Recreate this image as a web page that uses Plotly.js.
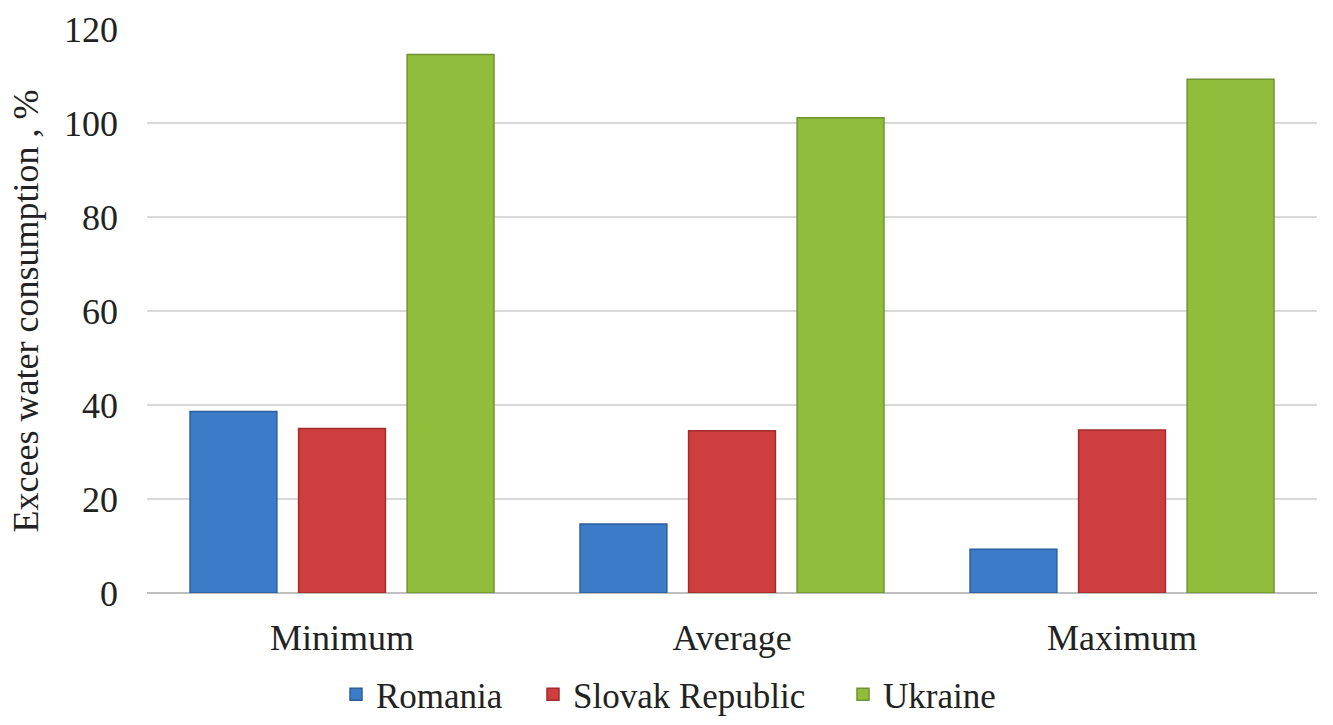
<!DOCTYPE html>
<html>
<head>
<meta charset="utf-8">
<script src="https://cdn.plot.ly/plotly-3.0.1.min.js"></script>
<style>
html,body{margin:0;padding:0;background:#fff;}
#chart{width:1333px;height:725px;}
#chart .legendtext{font-family:"Liberation Serif", serif !important;}
</style>
</head>
<body>
<div id="chart"></div>
<script>
const categories = ["Minimum", "Average", "Maximum"];
const romania = [38.6, 14.7, 9.3];
const slovak = [35.0, 34.5, 34.7];
const ukraine = [114.6, 101.1, 109.3];
const seriesNames = ["Romania", "Slovak Republic", "Ukraine"];
const yTickVals = [0, 20, 40, 60, 80, 100, 120];

const font = "Liberation Serif";
const colors = ["#3b7bc8", "#cf3e3e", "#91bd3d"];
const lineColors = ["#2a5e9e", "#a02c2c", "#6f9330"];
const legendIds = ["legend", "legend2", "legend3"];
const data = [romania, slovak, ukraine].map((vals, i) => ({
  type: "bar",
  name: seriesNames[i],
  x: categories,
  y: vals,
  legend: legendIds[i],
  marker: {color: colors[i], line: {color: lineColors[i], width: 1.5}},
  hoverinfo: "none"
}));

function legendAt(xpx) {
  return {
    orientation: "h", xref: "container", x: xpx / 1333, xanchor: "left",
    yref: "container", y: 0.042, yanchor: "middle",
    font: {family: font, size: 35, color: "#222"},
    itemwidth: 30, itemclick: false, bgcolor: "rgba(0,0,0,0)"
  };
}

const layout = {
  width: 1333, height: 725,
  paper_bgcolor: "#fff", plot_bgcolor: "#fff",
  margin: {l: 147, r: 16, t: 29, b: 132, autoexpand: false},
  barmode: "group",
  bargap: 0.165,
  bargroupgap: 0.2,
  font: {family: font, color: "#222", size: 34},
  xaxis: {
    showgrid: false, showline: false, zeroline: false,
    ticks: "", ticklabelstandoff: 20, automargin: false,
    tickfont: {family: font, size: 36, color: "#222"}
  },
  yaxis: {
    range: [0, 120], tickvals: yTickVals, automargin: false,
    showgrid: true, gridcolor: "#d9d9d9", gridwidth: 1.5,
    zeroline: true, zerolinecolor: "#bfbfbf", zerolinewidth: 2,
    showline: false, ticks: "", ticklabelstandoff: 28,
    tickfont: {family: font, size: 36, color: "#222"},
    title: {text: "Excees water consumption , %", standoff: 14,
            font: {family: font, size: 36, color: "#222"}}
  },
  legend: legendAt(336),
  legend2: legendAt(533),
  legend3: legendAt(843),
  showlegend: true
};

Plotly.newPlot("chart", data, layout, {staticPlot: true, displayModeBar: false});
</script>
</body>
</html>
